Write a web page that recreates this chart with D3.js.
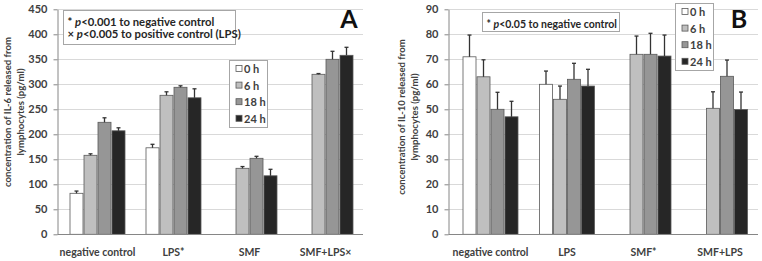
<!DOCTYPE html>
<html>
<head>
<meta charset="utf-8">
<script src="https://cdn.jsdelivr.net/npm/d3@7"></script>
<style>
	body { margin: 0; background: #fff; }
	svg { display: block; }
</style>
</head>
<body>
<div class="chart"></div>
<script>
	var textColor = '#404040',
		gridColor = '#d9d9d9',
		axisColor = '#868686',
		barStroke = '#595959',
		fontFamily = 'Lato, "Liberation Sans", sans-serif';

	var times = ['0 h', '6 h', '18 h', '24 h'];
	var timeColors = ['#ffffff', '#bfbfbf', '#969696', '#262626'];

	// IL-6 (panel A)
	var il6Categories = ['negative control', 'LPS*', 'SMF', 'SMF+LPS×'];
	var il6At0h = [82, 173, null, null];
	var il6At6h = [158, 278, 132, 320];
	var il6At18h = [224, 294, 152, 350];
	var il6At24h = [207, 273, 117, 358];
	var il6Err0h = [4.5, 7, null, null];
	var il6Err6h = [3, 7, 3.5, 1.5];
	var il6Err18h = [9, 3, 4, 16];
	var il6Err24h = [6, 18, 13, 16];
	var il6Ticks = [0, 50, 100, 150, 200, 250, 300, 350, 400, 450];

	// IL-10 (panel B)
	var il10Categories = ['negative control', 'LPS', 'SMF*', 'SMF+LPS'];
	var il10At0h = [71, 60, null, null];
	var il10At6h = [63, 54, 72, 50.4];
	var il10At18h = [50, 62, 72, 63.2];
	var il10At24h = [47, 59.3, 71.3, 49.9];
	var il10Err0h = [8.7, 5.3, null, null];
	var il10Err6h = [6.8, 5.3, 7.3, 6.6];
	var il10Err18h = [6.8, 6.4, 8.4, 6.5];
	var il10Err24h = [6.2, 6.7, 8.4, 7];
	var il10Ticks = [0, 10, 20, 30, 40, 50, 60, 70, 80, 90];

	var svg = d3.select('.chart').append('svg')
		.attr('width', 762)
		.attr('height', 261)
		.attr('font-family', fontFamily)
		.attr('fill', textColor);

	function drawPanel(p) {
		var y = d3.scaleLinear().domain([0, p.max]).range([234.3, 9.3]);
		var x0 = d3.scaleBand().domain(p.categories).range([p.bandLeft, p.bandRight]);
		var groupWidth = 56;
		var x1 = d3.scaleBand().domain(times).range([0, groupWidth]);
		var g = svg.append('g');

		// gridlines
		g.append('g').selectAll('line')
			.data(p.ticks.slice(1))
			.enter().append('line')
			.attr('x1', p.axisX)
			.attr('x2', p.gridRight)
			.attr('y1', function(d) { return Math.round(y(d)) + 0.5; })
			.attr('y2', function(d) { return Math.round(y(d)) + 0.5; })
			.attr('stroke', gridColor)
			.attr('stroke-width', 1);

		// y axis
		var yAxis = g.append('g')
			.attr('transform', 'translate(' + p.axisX + ',0)')
			.call(d3.axisLeft(y).tickValues(p.ticks).tickSize(4).tickSizeOuter(0).tickPadding(6));
		yAxis.select('.domain').attr('stroke', axisColor);
		yAxis.selectAll('.tick line').attr('stroke', axisColor);
		yAxis.selectAll('.tick text')
			.attr('fill', textColor)
			.attr('font-family', fontFamily)
			.attr('font-size', '11px')
			.attr('font-weight', 'bold');

		// bars
		p.series.forEach(function(vals, i) {
			vals.forEach(function(v, j) {
				if (v === null) return;
				var bx = x0(p.categories[j]) + (x0.bandwidth() - groupWidth) / 2 + x1(times[i]);
				g.append('rect')
					.attr('x', bx + 0.5)
					.attr('y', y(v))
					.attr('width', x1.bandwidth() - 1)
					.attr('height', y(0) - y(v))
					.attr('fill', timeColors[i])
					.attr('stroke', barStroke)
					.attr('stroke-width', 0.8);
				var e = p.errors[i][j];
				var cx = bx + x1.bandwidth() / 2;
				g.append('line')
					.attr('x1', cx).attr('x2', cx)
					.attr('y1', y(v)).attr('y2', y(v + e))
					.attr('stroke', '#333')
					.attr('stroke-width', 1.3);
				g.append('line')
					.attr('x1', cx - 2).attr('x2', cx + 2)
					.attr('y1', y(v + e)).attr('y2', y(v + e))
					.attr('stroke', '#333')
					.attr('stroke-width', 1.3);
			});
		});

		// x axis line
		g.append('line')
			.attr('x1', p.axisX).attr('x2', p.gridRight)
			.attr('y1', 234.5).attr('y2', 234.5)
			.attr('stroke', axisColor);

		// category labels
		g.selectAll('.cat')
			.data(p.categories)
			.enter().append('text')
			.attr('x', function(d) { return x0(d) + x0.bandwidth() / 2; })
			.attr('y', 256)
			.attr('text-anchor', 'middle')
			.attr('font-size', '10.5px')
			.attr('font-weight', 'bold')
			.text(function(d) { return d; });

		// y axis title
		var title = g.append('text')
			.attr('transform', 'translate(' + p.titleX + ',' + p.titleY + ') rotate(-90)')
			.attr('text-anchor', 'middle')
			.attr('font-size', '9.6px')
			.attr('font-weight', 'bold');
		title.append('tspan').attr('x', 0).attr('dy', 0).text(p.title1);
		title.append('tspan').attr('x', 0).attr('dy', 12.5).text(p.title2);

		// legend
		var lg = g.append('g').attr('transform', 'translate(' + p.legendX + ',' + p.legendY + ')');
		lg.append('rect')
			.attr('x', 0).attr('y', 0)
			.attr('width', 38).attr('height', 67)
			.attr('fill', '#fff')
			.attr('stroke', '#a6a6a6');
		times.forEach(function(t, i) {
			lg.append('rect')
				.attr('x', 6.5).attr('y', 5 + i * 16.6)
				.attr('width', 6).attr('height', 6)
				.attr('fill', timeColors[i])
				.attr('stroke', barStroke)
				.attr('stroke-width', 0.8);
			lg.append('text')
				.attr('x', 14.5).attr('y', 12.5 + i * 16.6)
				.attr('font-size', '11px')
				.attr('font-weight', 'bold')
				.text(t);
		});

		// note box
		g.append('rect')
			.attr('x', p.noteBox[0]).attr('y', p.noteBox[1])
			.attr('width', p.noteBox[2]).attr('height', p.noteBox[3])
			.attr('fill', '#fff')
			.attr('stroke', '#a6a6a6');
		p.notes.forEach(function(n, i) {
			var t = g.append('text')
				.attr('x', p.noteBox[0] + 4)
				.attr('y', p.noteBox[1] + 15.5 + i * 12)
				.attr('font-size', p.noteSize)
				.attr('font-weight', 'bold')
				.attr('fill', '#262626');
			t.append('tspan').text(n[0] + ' ');
			t.append('tspan').attr('font-style', 'italic').text('p');
			t.append('tspan').text(n[1]);
		});

		// panel letter
		g.append('text')
			.attr('x', p.letterX)
			.attr('y', 28)
			.attr('text-anchor', 'middle')
			.attr('font-size', '25px')
			.attr('font-weight', 'bold')
			.attr('fill', '#111')
			.text(p.letter);
	}

	drawPanel({
		max: 450,
		ticks: il6Ticks,
		categories: il6Categories,
		series: [il6At0h, il6At6h, il6At18h, il6At24h],
		errors: [il6Err0h, il6Err6h, il6Err18h, il6Err24h],
		axisX: 57.5, gridRight: 363,
		bandLeft: 59.5, bandRight: 363.5,
		titleX: 11, titleY: 112,
		title1: 'concentration of IL-6 released from',
		title2: 'lymphocytes (pg/ml)',
		legendX: 229.5, legendY: 60.5,
		noteBox: [63.5, 10.5, 172, 34],
		noteSize: '11.3px',
		notes: [['*', '<0.001 to negative control'], ['×', '<0.005 to positive control (LPS)']],
		letter: 'A', letterX: 349
	});

	drawPanel({
		max: 90,
		ticks: il10Ticks,
		categories: il10Categories,
		series: [il10At0h, il10At6h, il10At18h, il10At24h],
		errors: [il10Err0h, il10Err6h, il10Err18h, il10Err24h],
		axisX: 448.5, gridRight: 758,
		bandLeft: 452.25, bandRight: 758.25,
		titleX: 405, titleY: 117,
		title1: 'concentration of IL-10 released from',
		title2: 'lymphocytes (pg/ml)',
		legendX: 675.5, legendY: 3.5,
		noteBox: [482.5, 12.5, 137, 19],
		noteSize: '10.5px',
		notes: [['*', '<0.05 to negative control']],
		letter: 'B', letterX: 739
	});
</script>
</body>
</html>
